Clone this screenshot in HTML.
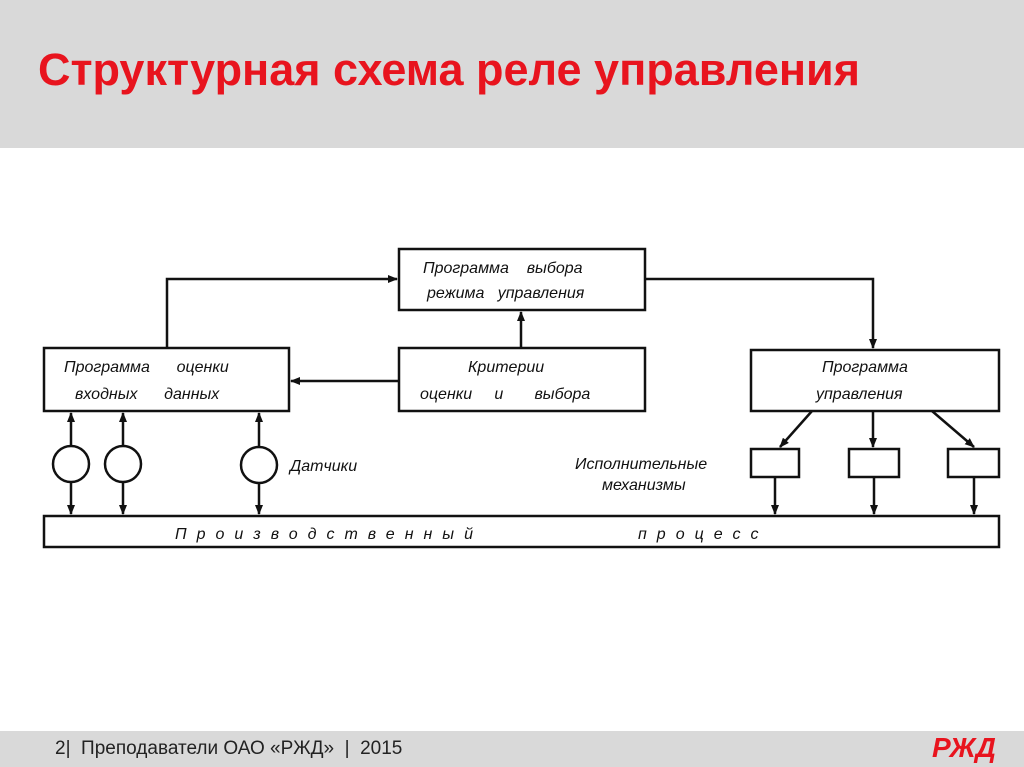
<!DOCTYPE html>
<html><head><meta charset="utf-8"><style>
body{margin:0;width:1024px;height:767px;overflow:hidden;background:#fff;font-family:"Liberation Sans",sans-serif}
.hd{position:absolute;left:0;top:0;width:1024px;height:148px;background:#d9d9d9}
.hd h1{position:absolute;left:38px;top:44px;margin:0;font-size:45px;color:#e8141e;font-weight:bold;white-space:nowrap}
.ft{position:absolute;left:0;top:731px;width:1024px;height:36px;background:#d9d9d9;font-size:19px;color:#222}
.ft span{position:absolute;left:55px;top:7px;white-space:pre}
.ft b{position:absolute;left:932px;top:1px;color:#e8141e;font-size:28px;font-style:italic;font-weight:bold}
text{white-space:pre}
</style></head><body>
<div class="hd"><h1>Структурная схема реле управления</h1></div>
<svg width="1024" height="767" style="position:absolute;left:0;top:0">
<defs><marker id="a" markerWidth="10" markerHeight="8" refX="9" refY="4" orient="auto" markerUnits="userSpaceOnUse"><path d="M0,0L10,4L0,8z" fill="#111"/></marker></defs>
<g fill="none" stroke="#111" stroke-width="2.5">
<rect x="44" y="348" width="245" height="63"/>
<rect x="399" y="249" width="246" height="61"/>
<rect x="399" y="348" width="246" height="63"/>
<rect x="751" y="350" width="248" height="61"/>
<rect x="751" y="449" width="48" height="28"/>
<rect x="849" y="449" width="50" height="28"/>
<rect x="948" y="449" width="51" height="28"/>
<rect x="44" y="516" width="955" height="31"/>
<circle cx="71" cy="464" r="18"/><circle cx="123" cy="464" r="18"/><circle cx="259" cy="465" r="18"/>
<path d="M167 348V279H397" marker-end="url(#a)"/>
<path d="M645 279H873V348" marker-end="url(#a)"/>
<path d="M521 348V312" marker-end="url(#a)"/>
<path d="M399 381H291" marker-end="url(#a)"/>
<path d="M71 446V413" marker-end="url(#a)"/><path d="M71 482V514" marker-end="url(#a)"/>
<path d="M123 446V413" marker-end="url(#a)"/><path d="M123 482V514" marker-end="url(#a)"/>
<path d="M259 447V413" marker-end="url(#a)"/><path d="M259 483V514" marker-end="url(#a)"/>
<path d="M812 411L780 447" marker-end="url(#a)"/>
<path d="M873 411V447" marker-end="url(#a)"/>
<path d="M932 411L974 447" marker-end="url(#a)"/>
<path d="M775 477V514" marker-end="url(#a)"/>
<path d="M874 477V514" marker-end="url(#a)"/>
<path d="M974 477V514" marker-end="url(#a)"/>
</g>
<g font-family="Liberation Sans,sans-serif" font-style="italic" font-size="16" fill="#111">
<text x="423" y="273">Программа    выбора</text>
<text x="427" y="298">режима   управления</text>
<text x="64" y="372">Программа      оценки</text>
<text x="75" y="399">входных      данных</text>
<text x="468" y="372">Критерии</text>
<text x="420" y="399">оценки     и       выбора</text>
<text x="822" y="372">Программа</text>
<text x="816" y="399">управления</text>
<text x="290" y="471">Датчики</text>
<text x="575" y="469">Исполнительные</text>
<text x="602" y="490">механизмы</text>
<text x="175" y="539" letter-spacing="10">Производственный</text>
<text x="638" y="539" letter-spacing="10">процесс</text>
</g>
</svg>
<div class="ft"><span>2|  Преподаватели ОАО «РЖД»  |  2015</span><b>РЖД</b></div>
</body></html>
